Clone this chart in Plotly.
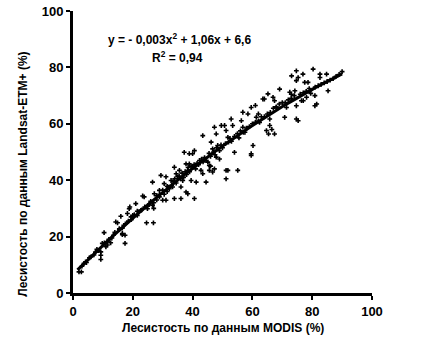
import numpy as np
import plotly.graph_objects as go

# MODIS forest cover (%) vs Landsat-ETM+ forest cover (%)
modis = [2.0,2.8,3.7,4.2,5.5,7.0,8.0,9.3,9.3,9.3,9.8,10.4,11.0,11.5,12.6,12.0,13.5,14.3,14.9,15.5,
         16.0,16.5,16.5,17.4,17.4,17.0,18.2,18.8,19.0,19.4,20.0,21.0,21.5,22.7,23.3,23.8,24.6,26.9,24.9,25.5,
         26.6,27.0,26.6,27.2,28.0,28.9,29.4,28.9,30.0,31.1,31.1,32.2,31.5,30.5,32.8,33.9,33.3,33.9,34.5,35.6,
         35.0,36.1,36.1,36.7,37.2,37.8,38.4,37.8,38.4,38.9,39.5,40.0,40.0,40.6,41.2,42.3,42.8,43.4,44.5,45.1,
         45.6,46.0,46.7,47.3,47.9,49.0,51.2,51.2,55.1,59.6,
         38.9,40.6,43.4,45.6,46.2,46.7,47.3,47.9,48.4,49.6,50.7,51.2,51.8,52.9,53.4,54.0,51.8,56.3,56.8,56.8,
         57.5,59.6,60.2,59.6,58.5,61.3,62.0,62.4,64.7,65.4,65.8,65.8,61.0,
         63.5,64.0,65.2,66.9,67.4,69.1,68.0,66.5,67.4,71.4,70.8,72.5,73.0,74.2,74.7,74.7,75.3,73.1,74.7,74.7,
         75.3,76.9,77.5,78.6,76.4,77.0,78.1,79.2,79.5,80.9,81.5,80.3,82.6,82.6,84.8,85.3,80.9,
         3.0,4.5,6.0,7.5,8.5,10.5,11.5,13.0,14.0,15.5,16.5,17.5,18.5,19.5,20.5,21.5,22.0,23.0,24.0,25.0,
         26.0,27.0,28.0,29.0,30.0,30.5,31.5,32.0,33.0,33.5,34.0,34.5,35.5,36.0,36.5,37.0,37.5,38.0,38.5,39.0,
         39.5,40.5,41.0,41.5,42.0,43.0,43.5,44.0,44.5,45.5,46.0,47.0,47.5,48.0,49.0,49.5,50.0,51.0,52.0,52.5,
         53.0,54.0,55.0,55.5,56.0,57.0,58.0,59.0,60.0,61.0,62.0,63.0,64.0,65.0,66.0,67.0,68.0,69.0,70.0,71.0,
         72.0,73.0,74.0,76.0,77.0,78.0,79.0,81.0,82.0,83.0,84.0,85.0,86.0,87.0,88.0,89.0,90.0]
landsat = [7.5,7.5,10.5,11.0,12.5,13.5,15.5,14.6,13.4,11.9,17.6,21.4,16.4,17.0,17.8,19.0,20.5,25.2,24.9,22.5,
           27.2,20.7,21.1,20.5,17.6,24.0,28.2,29.9,30.5,27.0,27.5,31.7,29.0,29.3,34.4,34.1,24.9,24.9,29.9,31.5,
           31.1,30.0,39.3,35.2,33.0,34.1,41.7,36.4,32.9,32.9,41.2,37.0,36.0,38.8,39.9,33.5,37.6,44.6,42.3,43.5,
           41.2,33.5,37.6,39.9,49.9,35.8,35.2,45.8,43.5,45.8,39.9,49.4,45.0,33.5,39.3,47.0,43.5,42.3,39.3,46.4,
           43.5,45.0,42.9,44.0,48.2,47.5,43.5,40.5,43.5,48.8,
           49.4,50.5,55.8,45.2,53.5,51.1,58.8,56.4,52.3,59.4,59.4,57.6,55.2,61.7,59.4,49.9,43.5,61.1,64.1,58.8,
           57.0,65.8,52.3,49.4,63.5,62.3,63.5,60.5,57.6,56.4,61.7,59.4,66.5,
           68.8,68.8,70.6,69.4,68.2,72.3,65.8,58.0,56.4,65.8,62.3,71.2,70.5,71.7,66.4,61.7,61.1,77.0,78.8,75.3,
           76.4,77.6,74.7,74.7,68.2,68.2,69.4,71.7,70.8,70.0,67.0,79.4,77.6,76.4,77.6,71.7,66.4,
           9.5,10.8,12.8,14.5,15.0,17.8,18.2,19.5,21.5,22.8,23.0,24.5,25.5,26.0,27.8,27.5,28.8,29.5,30.5,30.8,
           32.5,32.0,34.5,35.0,36.5,35.0,37.8,37.5,38.2,39.5,40.5,39.0,41.5,40.5,42.5,41.0,43.0,42.0,44.5,43.0,
           44.8,45.5,44.0,46.0,45.5,47.5,46.5,48.0,47.0,49.5,48.5,50.0,49.0,51.5,50.5,52.5,51.5,53.0,53.5,54.8,
           53.8,55.5,56.5,55.0,57.5,57.0,58.5,59.0,60.0,60.5,61.0,62.5,62.5,63.5,64.0,65.5,66.0,67.0,67.5,67.5,
           68.5,69.0,70.0,70.5,71.0,71.5,72.5,73.0,73.5,74.0,74.5,75.0,75.5,76.0,76.8,77.5,78.5]

# Trendline coefficients (from the chart's equation): a*x^2 + b*x + c
trend_coef = [-0.003, 1.06, 6.6]
trend_range = [1.5, 90.0]

x_ticks = [0, 20, 40, 60, 80, 100]
y_ticks = [0, 20, 40, 60, 80, 100]

xt = np.linspace(trend_range[0], trend_range[1], 120)
yt = np.polyval(trend_coef, xt)

fig = go.Figure()
fig.add_trace(go.Scatter(x=modis, y=landsat, mode="markers",
                         marker=dict(symbol="cross", size=4, color="black",
                                     line=dict(width=0)),
                         showlegend=False, hoverinfo="skip", cliponaxis=False))
fig.add_trace(go.Scatter(x=xt, y=yt, mode="lines",
                         line=dict(color="black", width=3),
                         showlegend=False, hoverinfo="skip"))

font_family = "Liberation Sans, Arial, sans-serif"
axis_common = dict(range=[0, 100], showgrid=False, zeroline=False, showline=True,
                   linecolor="black", linewidth=3, ticks="outside", ticklen=4,
                   tickwidth=2, tickcolor="black", automargin=False,
                   tickfont=dict(family=font_family, size=13, color="black", weight="bold"))

title_font = dict(family=font_family, size=12, color="black", weight="bold")

fig.update_layout(
    width=423, height=345,
    margin=dict(l=73, r=51, t=11, b=52),
    paper_bgcolor="white", plot_bgcolor="white",
    xaxis=dict(**axis_common, tickvals=x_ticks),
    yaxis=dict(**axis_common, tickvals=y_ticks),
    annotations=[
        dict(x=35.6, y=90, xref="x", yref="y", showarrow=False,
             text="y = - 0,003x<sup>2</sup> + 1,06x + 6,6",
             font=dict(family=font_family, size=12, color="black", weight="bold")),
        dict(x=35.0, y=83.8, xref="x", yref="y", showarrow=False,
             text="R<sup>2</sup> = 0,94",
             font=dict(family=font_family, size=12, color="black", weight="bold")),
        dict(x=0.5, y=-34, xref="paper", yref="paper", yshift=0,
             showarrow=False, text="Лесистость по данным MODIS (%)", font=title_font,
             yanchor="middle"),
        dict(x=-0.17, y=0.42, xref="paper", yref="paper", showarrow=False,
             text="Лесистость по данным Landsat-ETM+ (%)", textangle=-90,
             font=title_font, xanchor="center", yanchor="middle"),
    ],
)
# position x-axis title in pixels below the plot area
fig.layout.annotations[2].update(y=0, yshift=-35)

fig.write_html("out.html")
